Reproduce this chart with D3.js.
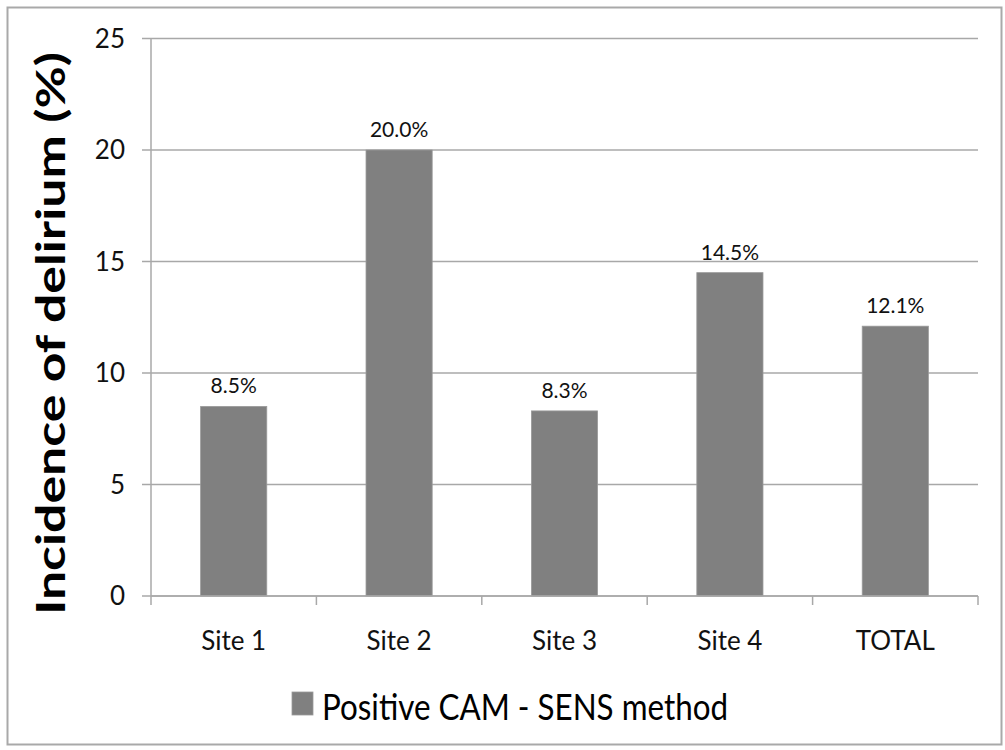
<!DOCTYPE html>
<html>
<head>
<meta charset="utf-8">
<script src="https://cdn.jsdelivr.net/npm/d3@7"></script>
<style>
  html, body { margin: 0; padding: 0; background: #fff; }
  svg { display: block; }
</style>
</head>
<body>
<svg id="chart" width="1005" height="750"></svg>
<script>
// Delirium incidence per site
const categories = ["Site 1", "Site 2", "Site 3", "Site 4", "TOTAL"];
const incidence = [8.5, 20.0, 8.3, 14.5, 12.1];
const valueLabels = ["8.5%", "20.0%", "8.3%", "14.5%", "12.1%"];
const yTicks = [0, 5, 10, 15, 20, 25];
const seriesName = "Positive CAM - SENS method";
const yTitle = "Incidence of delirium (%)";

const plot = { left: 151, right: 978, top: 38.5, bottom: 596 };
const font = "Lato, 'Open Sans', sans-serif";
const barColor = "#808080";
const gridColor = "#a8a8a8";

const svg = d3.select("#chart");

// outer frame
svg.append("rect")
  .attr("x", 7.5).attr("y", 7.5)
  .attr("width", 994).attr("height", 737)
  .attr("fill", "#fff").attr("stroke", "#a9a9a9").attr("stroke-width", 2);

const y = d3.scaleLinear().domain([0, 25]).range([plot.bottom, plot.top]);
const x = d3.scaleBand().domain(categories)
  .range([plot.left, plot.right])
  .paddingInner(0.6).paddingOuter(0.3);

// horizontal gridlines with left tick stubs
svg.append("g").selectAll("line").data(yTicks).join("line")
  .attr("x1", plot.left - 9).attr("x2", plot.right)
  .attr("y1", d => y(d)).attr("y2", d => y(d))
  .attr("stroke", gridColor).attr("stroke-width", 1.5);

// y axis line
svg.append("line")
  .attr("x1", plot.left).attr("x2", plot.left)
  .attr("y1", plot.top).attr("y2", plot.bottom)
  .attr("stroke", gridColor).attr("stroke-width", 1.5);

// y tick labels
svg.append("g").selectAll("text").data(yTicks).join("text")
  .attr("x", 125).attr("y", d => y(d))
  .attr("dy", "0.36em")
  .attr("text-anchor", "end")
  .attr("font-family", font).attr("font-size", 26).attr("fill", "#111")
  .text(d => d);

// bars
svg.append("g").selectAll("rect").data(incidence).join("rect")
  .attr("x", (d, i) => x(categories[i]))
  .attr("width", x.bandwidth())
  .attr("y", d => y(d))
  .attr("height", d => y(0) - y(d))
  .attr("fill", barColor)
  .attr("stroke", "#9a9a9a").attr("stroke-width", 0.8);

// x axis baseline and category boundary ticks
svg.append("line")
  .attr("x1", plot.left).attr("x2", plot.right)
  .attr("y1", y(0)).attr("y2", y(0))
  .attr("stroke", gridColor).attr("stroke-width", 1.5);
const boundaries = d3.range(categories.length + 1)
  .map(i => plot.left + i * (plot.right - plot.left) / categories.length);
svg.append("g").selectAll("line").data(boundaries).join("line")
  .attr("x1", d => d).attr("x2", d => d)
  .attr("y1", y(0)).attr("y2", y(0) + 9)
  .attr("stroke", gridColor).attr("stroke-width", 1.5);

// category labels
svg.append("g").selectAll("text").data(categories).join("text")
  .attr("x", d => x(d) + x.bandwidth() / 2)
  .attr("y", 650)
  .attr("text-anchor", "middle")
  .attr("font-family", font).attr("font-size", 26).attr("fill", "#111")
  .text(d => d);

// value labels above bars
svg.append("g").selectAll("text").data(incidence).join("text")
  .attr("x", (d, i) => x(categories[i]) + x.bandwidth() / 2)
  .attr("y", d => y(d) - 13)
  .attr("text-anchor", "middle")
  .attr("font-family", font).attr("font-size", 21).attr("fill", "#111")
  .text((d, i) => valueLabels[i]);

// y axis title
svg.append("text")
  .attr("transform", "translate(65,333.5) rotate(-90)")
  .attr("text-anchor", "middle")
  .attr("font-family", font).attr("font-weight", 700)
  .attr("font-size", 41).attr("fill", "#000")
  .attr("textLength", 563).attr("lengthAdjust", "spacingAndGlyphs")
  .text(yTitle);

// legend
svg.append("rect")
  .attr("x", 292).attr("y", 692)
  .attr("width", 21).attr("height", 23)
  .attr("fill", barColor).attr("stroke", "#9a9a9a").attr("stroke-width", 0.8);
svg.append("text")
  .attr("x", 322).attr("y", 720)
  .attr("font-family", font).attr("font-size", 37).attr("fill", "#000")
  .attr("textLength", 406).attr("lengthAdjust", "spacingAndGlyphs")
  .text(seriesName);
</script>
</body>
</html>
